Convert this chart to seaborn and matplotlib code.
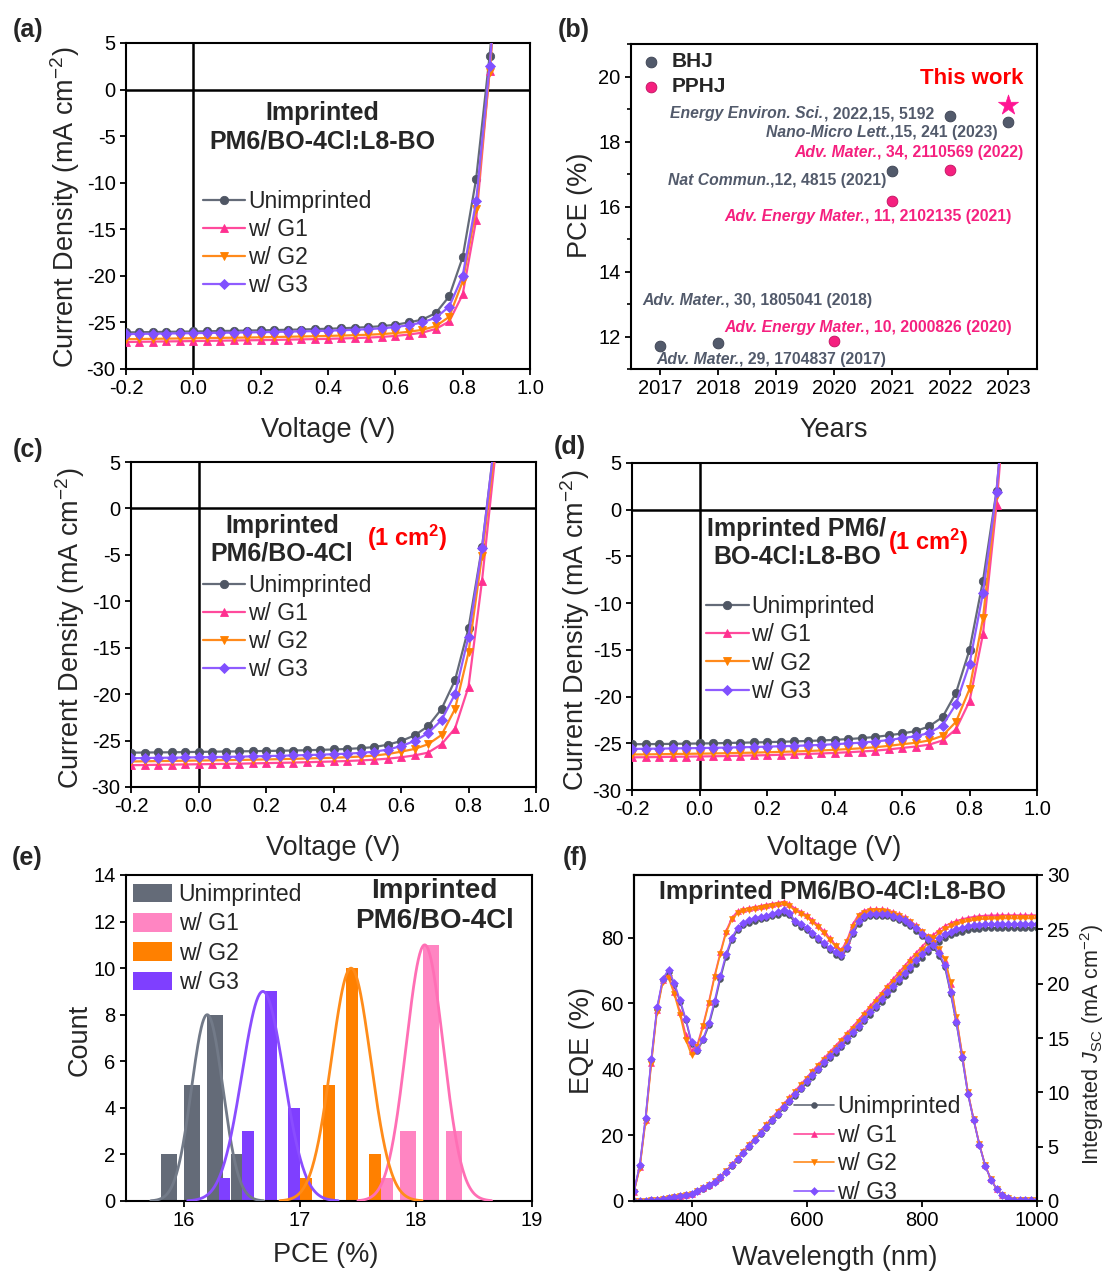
import numpy as np
import pandas as pd
import matplotlib
matplotlib.use("Agg")
import matplotlib.pyplot as plt
import seaborn as sns
from matplotlib.patches import Patch
from matplotlib.ticker import MultipleLocator

# ============================ DATA ============================
series_names = ["Unimprinted", "w/ G1", "w/ G2", "w/ G3"]

voltage = [-0.20, -0.16, -0.12, -0.08, -0.04, 0.00, 0.04, 0.08, 0.12, 0.16,
           0.20, 0.24, 0.28, 0.32, 0.36, 0.40, 0.44, 0.48, 0.52, 0.56,
           0.60, 0.64, 0.68, 0.72, 0.76, 0.80, 0.84, 0.88, 0.92]

# (a) Imprinted PM6/BO-4Cl:L8-BO
jv_a_unimp = [-26.07, -26.05, -26.03, -26.01, -25.99, -25.97, -25.95, -25.92, -25.90, -25.87,
              -25.85, -25.82, -25.79, -25.76, -25.72, -25.68, -25.63, -25.57, -25.50, -25.40,
              -25.25, -25.00, -24.70, -24.00, -22.20, -18.00, -9.60, 3.60, 20.0]
jv_a_g1 = [-27.10, -27.08, -27.06, -27.04, -27.02, -27.00, -26.98, -26.96, -26.94, -26.92,
           -26.90, -26.88, -26.85, -26.82, -26.79, -26.76, -26.72, -26.68, -26.63, -26.55,
           -26.45, -26.30, -26.10, -25.70, -24.90, -22.00, -14.00, 2.00, 20.0]
jv_a_g2 = [-26.80, -26.78, -26.76, -26.74, -26.72, -26.70, -26.68, -26.66, -26.64, -26.62,
           -26.60, -26.57, -26.54, -26.51, -26.48, -26.45, -26.41, -26.37, -26.32, -26.25,
           -26.15, -26.00, -25.80, -25.40, -24.40, -20.60, -12.80, 1.90, 20.0]
jv_a_g3 = [-26.25, -26.23, -26.21, -26.19, -26.17, -26.15, -26.13, -26.11, -26.09, -26.07,
           -26.05, -26.02, -25.99, -25.96, -25.93, -25.89, -25.84, -25.79, -25.72, -25.63,
           -25.50, -25.30, -25.00, -24.50, -23.30, -20.00, -12.00, 2.50, 20.0]

# (c) Imprinted PM6/BO-4Cl, 1 cm2
jv_c_unimp = [-26.30, -26.29, -26.27, -26.26, -26.24, -26.22, -26.20, -26.18, -26.16, -26.14,
              -26.12, -26.10, -26.07, -26.04, -26.00, -25.96, -25.90, -25.82, -25.70, -25.45,
              -25.05, -24.45, -23.45, -21.60, -18.50, -12.90, -4.20, 8.00, 25.0]
jv_c_g1 = [-27.65, -27.63, -27.61, -27.59, -27.57, -27.55, -27.53, -27.51, -27.49, -27.46,
           -27.43, -27.40, -27.37, -27.33, -27.29, -27.25, -27.20, -27.14, -27.06, -26.95,
           -26.80, -26.60, -26.30, -25.40, -23.70, -19.20, -7.80, 6.00, 25.0]
jv_c_g2 = [-27.25, -27.23, -27.21, -27.19, -27.17, -27.15, -27.13, -27.11, -27.09, -27.06,
           -27.03, -27.00, -26.97, -26.93, -26.89, -26.85, -26.79, -26.72, -26.62, -26.45,
           -26.20, -25.90, -25.40, -24.40, -21.60, -15.50, -5.10, 7.00, 25.0]
jv_c_g3 = [-26.90, -26.88, -26.86, -26.84, -26.82, -26.80, -26.78, -26.76, -26.73, -26.70,
           -26.67, -26.64, -26.60, -26.56, -26.52, -26.47, -26.41, -26.33, -26.20, -25.98,
           -25.60, -25.05, -24.20, -22.80, -20.00, -13.80, -4.30, 8.00, 25.0]

# (d) Imprinted PM6/BO-4Cl:L8-BO, 1 cm2
jv_d_unimp = [-25.10, -25.09, -25.08, -25.06, -25.04, -25.02, -25.00, -24.97, -24.94, -24.91,
              -24.88, -24.84, -24.80, -24.75, -24.70, -24.63, -24.55, -24.45, -24.32, -24.15,
              -23.95, -23.70, -23.20, -22.20, -19.60, -15.00, -7.60, 2.00, 18.0]
jv_d_g1 = [-26.50, -26.49, -26.47, -26.45, -26.43, -26.41, -26.39, -26.36, -26.33, -26.30,
           -26.27, -26.23, -26.19, -26.14, -26.09, -26.03, -25.96, -25.88, -25.79, -25.66,
           -25.50, -25.35, -25.15, -24.70, -23.50, -20.50, -13.30, 0.50, 18.0]
jv_d_g2 = [-26.20, -26.19, -26.17, -26.15, -26.13, -26.11, -26.09, -26.06, -26.03, -26.00,
           -25.96, -25.92, -25.88, -25.83, -25.77, -25.70, -25.62, -25.53, -25.42, -25.28,
           -25.10, -24.95, -24.70, -24.20, -22.70, -19.20, -11.60, 1.60, 18.0]
jv_d_g3 = [-25.60, -25.59, -25.57, -25.55, -25.53, -25.51, -25.49, -25.46, -25.43, -25.40,
           -25.36, -25.32, -25.28, -25.23, -25.17, -25.10, -25.02, -24.93, -24.81, -24.66,
           -24.45, -24.25, -23.90, -23.10, -20.80, -16.50, -8.90, 1.90, 18.0]

# (b) literature PCE
bhj_year = [2017, 2018, 2021, 2022, 2023]
bhj_pce = [11.72, 11.80, 17.08, 18.80, 18.60]
pphj_year = [2020, 2021, 2022]
pphj_pce = [11.87, 16.17, 17.12]
this_work_year = [2023]
this_work_pce = [19.11]
ref_journal = ["Energy Environ. Sci.", "Nano-Micro Lett.", "Adv. Mater.", "Nat Commun.",
               "Adv. Energy Mater.", "Adv. Mater.", "Adv. Energy Mater.", "Adv. Mater."]
ref_detail = [", 2022,15, 5192", ",15, 241 (2023)", ", 34, 2110569 (2022)", ",12, 4815 (2021)",
              ", 11, 2102135 (2021)", ", 30, 1805041 (2018)", ", 10, 2000826 (2020)",
              ", 29, 1704837 (2017)"]
ref_type = ["BHJ", "BHJ", "PPHJ", "BHJ", "PPHJ", "BHJ", "PPHJ", "BHJ"]

# (e) PCE histograms: bin centers, counts, gaussian-fit parameters
hist_centers = {
    "Unimprinted": [15.87, 16.07, 16.27, 16.47],
    "w/ G1": [17.73, 17.93, 18.13, 18.33],
    "w/ G2": [17.05, 17.25, 17.45, 17.65],
    "w/ G3": [16.35, 16.55, 16.75, 16.95],
}
hist_counts = {
    "Unimprinted": [2, 5, 8, 2],
    "w/ G1": [1, 3, 11, 3],
    "w/ G2": [1, 5, 10, 2],
    "w/ G3": [1, 3, 9, 4],
}
fit_mean = {"Unimprinted": 16.20, "w/ G1": 18.075, "w/ G2": 17.44, "w/ G3": 16.68}
fit_sd = {"Unimprinted": 0.135, "w/ G1": 0.16, "w/ G2": 0.17, "w/ G3": 0.18}
fit_peak = {"Unimprinted": 8, "w/ G1": 11, "w/ G2": 10, "w/ G3": 9}

# (f) EQE and integrated Jsc, 300-1000 nm every 10 nm
wavelength = list(range(300, 1001, 10))
eqe_unimp = [3.0, 10.7, 25.0, 42.7, 58.4, 67.0, 69.6, 65.5, 60.5, 54.9,
             47.8, 45.7, 48.8, 53.3, 59.9, 67.5, 74.2, 79.3, 82.3, 83.8,
             84.5, 85.1, 85.6, 86.0, 86.5, 87.0, 87.6, 86.8, 84.3, 83.3,
             82.3, 80.8, 79.2, 77.6, 76.2, 74.8, 74.0, 76.5, 81.0, 84.2,
             85.8, 86.4, 86.6, 86.6, 86.4, 86.0, 85.3, 84.5, 83.5, 82.1,
             80.5, 79.0, 77.0, 74.5, 71.0, 63.0, 54.0, 43.5, 32.5, 24.5,
             17.0, 10.7, 6.5, 3.6, 1.7, 0.8, 0.4, 0.3, 0.3, 0.2, 0.2]
eqe_g1 = [2.8, 10.2, 24.5, 42.0, 58.0, 67.2, 68.5, 63.5, 57.5, 50.5,
          45.5, 47.5, 53.5, 60.5, 68.5, 75.5, 82.0, 86.0, 88.0, 88.6,
          89.0, 89.3, 89.6, 90.0, 90.3, 90.6, 90.9, 90.2, 88.8, 87.8,
          86.8, 85.3, 83.7, 81.9, 79.9, 77.8, 76.2, 79.2, 84.0, 87.0,
          88.2, 88.6, 88.7, 88.6, 88.3, 87.8, 87.1, 86.2, 85.1, 83.7,
          82.1, 80.5, 78.6, 76.4, 73.2, 66.0, 55.5, 44.5, 33.0, 24.8,
          17.2, 10.8, 6.6, 3.6, 1.7, 0.8, 0.4, 0.3, 0.3, 0.2, 0.2]
eqe_g2 = [2.8, 10.0, 24.0, 41.5, 57.5, 66.5, 67.8, 62.8, 56.5, 49.0,
          44.2, 46.8, 53.0, 60.0, 68.0, 75.0, 81.5, 85.5, 87.4, 88.0,
          88.4, 88.7, 89.0, 89.4, 89.7, 90.0, 90.2, 89.6, 88.2, 87.2,
          86.2, 84.7, 83.1, 81.3, 79.3, 77.3, 75.8, 78.6, 83.3, 86.4,
          87.6, 88.0, 88.1, 88.0, 87.7, 87.2, 86.5, 85.7, 84.6, 83.3,
          81.8, 80.3, 78.5, 76.5, 73.5, 66.5, 55.8, 44.7, 33.1, 24.8,
          17.2, 10.8, 6.6, 3.6, 1.7, 0.8, 0.4, 0.3, 0.3, 0.2, 0.2]
eqe_g3 = [3.0, 10.9, 25.3, 43.0, 58.8, 67.5, 70.3, 66.2, 61.0, 55.3,
          48.2, 46.0, 49.3, 54.0, 60.8, 68.4, 75.0, 80.0, 83.0, 84.5,
          85.2, 85.8, 86.3, 86.7, 87.2, 87.7, 88.3, 87.5, 85.0, 84.0,
          83.0, 81.5, 79.9, 78.3, 76.9, 75.5, 74.7, 77.2, 81.7, 84.9,
          86.5, 87.1, 87.3, 87.3, 87.1, 86.7, 86.0, 85.2, 84.2, 82.8,
          81.2, 79.7, 77.7, 75.2, 71.6, 63.5, 54.3, 43.7, 32.6, 24.6,
          17.0, 10.7, 6.5, 3.6, 1.7, 0.8, 0.4, 0.3, 0.3, 0.2, 0.2]
jsc_unimp = [0.00, 0.01, 0.03, 0.07, 0.13, 0.20, 0.28, 0.37, 0.46, 0.54,
             0.62, 0.88, 1.14, 1.42, 1.76, 2.15, 2.66, 3.22, 3.80, 4.39,
             4.98, 5.57, 6.16, 6.75, 7.34, 7.93, 8.52, 9.11, 9.70, 10.28,
             10.86, 11.44, 12.01, 12.57, 13.12, 13.66, 14.20, 14.76, 15.34, 15.93,
             16.53, 17.13, 17.73, 18.33, 18.93, 19.53, 20.12, 20.70, 21.27, 21.83,
             22.38, 22.91, 23.41, 23.86, 24.20, 24.45, 24.65, 24.80, 24.92, 25.01,
             25.07, 25.11, 25.13, 25.14, 25.15, 25.15, 25.15, 25.15, 25.15, 25.15, 25.15]
jsc_g1 = [0.00, 0.01, 0.03, 0.07, 0.14, 0.21, 0.29, 0.39, 0.48, 0.56,
          0.65, 0.92, 1.19, 1.49, 1.84, 2.25, 2.78, 3.37, 3.97, 4.59,
          5.21, 5.83, 6.44, 7.06, 7.68, 8.29, 8.91, 9.53, 10.15, 10.75,
          11.36, 11.97, 12.56, 13.15, 13.72, 14.29, 14.85, 15.44, 16.05, 16.66,
          17.29, 17.92, 18.55, 19.17, 19.80, 20.43, 21.05, 21.65, 22.25, 22.83,
          23.41, 23.96, 24.49, 24.96, 25.31, 25.57, 25.78, 25.94, 26.07, 26.16,
          26.22, 26.27, 26.29, 26.30, 26.31, 26.31, 26.31, 26.31, 26.31, 26.31, 26.31]
jsc_g2 = [0.00, 0.01, 0.03, 0.07, 0.13, 0.21, 0.29, 0.38, 0.48, 0.56,
          0.64, 0.91, 1.18, 1.47, 1.82, 2.22, 2.75, 3.33, 3.93, 4.54,
          5.15, 5.76, 6.37, 6.98, 7.59, 8.20, 8.81, 9.42, 10.03, 10.63,
          11.23, 11.83, 12.42, 13.00, 13.57, 14.12, 14.68, 15.26, 15.86, 16.47,
          17.09, 17.71, 18.33, 18.95, 19.57, 20.19, 20.80, 21.40, 21.99, 22.57,
          23.14, 23.69, 24.21, 24.67, 25.02, 25.28, 25.49, 25.64, 25.77, 25.86,
          25.92, 25.96, 25.98, 25.99, 26.00, 26.00, 26.00, 26.00, 26.00, 26.00, 26.00]
jsc_g3 = [0.00, 0.01, 0.03, 0.07, 0.13, 0.20, 0.28, 0.38, 0.47, 0.55,
          0.63, 0.89, 1.16, 1.44, 1.78, 2.18, 2.70, 3.27, 3.85, 4.45,
          5.05, 5.65, 6.25, 6.84, 7.44, 8.04, 8.64, 9.24, 9.84, 10.42,
          11.01, 11.60, 12.18, 12.75, 13.30, 13.85, 14.40, 14.97, 15.55, 16.15,
          16.76, 17.37, 17.98, 18.59, 19.20, 19.80, 20.40, 20.99, 21.57, 22.14,
          22.69, 23.23, 23.74, 24.19, 24.54, 24.79, 24.99, 25.15, 25.27, 25.36,
          25.42, 25.46, 25.48, 25.49, 25.50, 25.50, 25.50, 25.50, 25.50, 25.50, 25.50]

# ============================ STYLE ============================
sns.set_theme(style="ticks")
plt.rcParams["font.family"] = ["Liberation Sans", "DejaVu Sans"]
plt.rcParams["mathtext.fontset"] = "custom"
plt.rcParams["mathtext.rm"] = "Liberation Sans"
plt.rcParams["mathtext.it"] = "Liberation Sans:italic"
plt.rcParams["mathtext.bf"] = "Liberation Sans:bold"
plt.rcParams["axes.unicode_minus"] = False
plt.rcParams["axes.linewidth"] = 1.5
plt.rcParams["axes.edgecolor"] = "black"

line_col = {"Unimprinted": "#646b78", "w/ G1": "#ff4a9c", "w/ G2": "#ff8a1c", "w/ G3": "#8f5cff"}
mark_col = {"Unimprinted": "#4f5664", "w/ G1": "#ff3090", "w/ G2": "#ff8000", "w/ G3": "#8050ff"}
markers = {"Unimprinted": "o", "w/ G1": "^", "w/ G2": "v", "w/ G3": "D"}
bar_col = {"Unimprinted": "#646b78", "w/ G1": "#ff85c2", "w/ G2": "#ff8000", "w/ G3": "#7f3fff"}
fit_col = {"Unimprinted": "#727a88", "w/ G1": "#ff6fb5", "w/ G2": "#ff8c1a", "w/ G3": "#8a4dff"}
BHJ_C = "#525a6b"
PPHJ_C = "#f5207f"
LAB_FS = 19.5
TICK_FS = 14.5
LEG_FS = 16.5

W, H = 1107, 1272
fig = plt.figure(figsize=(W / 100, H / 100), dpi=100)


def axes_px(l, t, r, b):
    return fig.add_axes([l / W, 1 - b / H, (r - l) / W, (b - t) / H])


def fx(px):
    return px / W


def fy(py):
    return 1 - py / H


def set_labels(ax, xl, xpos, yl, ypos, fs=LAB_FS):
    ax.set_xlabel(xl, fontsize=fs, va="center", ha="center")
    ax.xaxis.set_label_coords(fx(xpos[0]), fy(xpos[1]), transform=fig.transFigure)
    ax.set_ylabel(yl, fontsize=fs, va="center", ha="center")
    ax.yaxis.set_label_coords(fx(ypos[0]), fy(ypos[1]), transform=fig.transFigure)


def style_ticks(ax, fs=TICK_FS):
    ax.tick_params(axis="both", which="major", direction="out", length=4.5, width=1.3,
                   labelsize=fs, pad=3, color="black", labelcolor="black")
    for s in ax.spines.values():
        s.set_visible(True)
        s.set_linewidth(1.5)
        s.set_color("black")


ax_a = axes_px(126, 43, 530, 369)
ax_b = axes_px(631, 44, 1037, 369)
ax_c = axes_px(131, 462, 536, 787)
ax_d = axes_px(632, 463, 1037, 790)
ax_e = axes_px(126, 875, 532, 1201)
ax_f = axes_px(634, 875, 1037, 1201)

# ============================ JV PANELS ============================
def jv_panel(ax, curves, leg_anchor):
    ax.axhline(0, color="black", lw=1.8, zorder=1)
    ax.axvline(0, color="black", lw=1.8, zorder=1)
    for name, J in zip(series_names, curves):
        sns.lineplot(x=voltage, y=J, ax=ax, color=line_col[name], lw=1.6,
                     marker=markers[name], markersize=6 if name != "w/ G3" else 5.5,
                     markerfacecolor=mark_col[name], markeredgecolor=mark_col[name],
                     markeredgewidth=0.6, label=name, sort=False, zorder=3)
    ax.set_xlim(-0.2, 1.0)
    ax.set_ylim(-30, 5)
    ax.set_xticks([-0.2, 0.0, 0.2, 0.4, 0.6, 0.8, 1.0])
    ax.set_xticklabels(["-0.2", "0.0", "0.2", "0.4", "0.6", "0.8", "1.0"])
    ax.set_yticks(list(range(-30, 6, 5)))
    style_ticks(ax)
    ax.legend(loc="upper left", bbox_to_anchor=leg_anchor, frameon=False, fontsize=LEG_FS,
              handlelength=1.85, handletextpad=0.12, labelspacing=0.22, borderpad=0,
              borderaxespad=0)


jv_panel(ax_a, [jv_a_unimp, jv_a_g1, jv_a_g2, jv_a_g3], (0.19, 0.55))
ax_a.text(0.486, 0.741, "Imprinted\nPM6/BO-4Cl:L8-BO", transform=ax_a.transAxes,
          ha="center", va="center", fontsize=18, fontweight="bold", linespacing=1.25)
set_labels(ax_a, "Voltage (V)", (328, 430), "Current Density (mA cm$^{-2}$)", (65, 207))

jv_panel(ax_c, [jv_c_unimp, jv_c_g1, jv_c_g2, jv_c_g3], (0.178, 0.655))
ax_c.text(0.373, 0.76, "Imprinted\nPM6/BO-4Cl", transform=ax_c.transAxes,
          ha="center", va="center", fontsize=18, fontweight="bold", linespacing=1.2)
ax_c.text(0.583, 0.765, "(1 cm$^\\mathbf{2}$)", transform=ax_c.transAxes, color="#ff0000",
          ha="left", va="center", fontsize=17, fontweight="bold")
set_labels(ax_c, "Voltage (V)", (333, 848), "Current Density (mA cm$^{-2}$)", (70, 628))

jv_panel(ax_d, [jv_d_unimp, jv_d_g1, jv_d_g2, jv_d_g3], (0.183, 0.595))
ax_d.text(0.407, 0.755, "Imprinted PM6/\nBO-4Cl:L8-BO", transform=ax_d.transAxes,
          ha="center", va="center", fontsize=18, fontweight="bold", linespacing=1.2)
ax_d.text(0.632, 0.76, "(1 cm$^\\mathbf{2}$)", transform=ax_d.transAxes, color="#ff0000",
          ha="left", va="center", fontsize=17, fontweight="bold")
set_labels(ax_d, "Voltage (V)", (834, 848), "Current Density (mA cm$^{-2}$)", (575, 630))

# ============================ (b) ============================
sns.scatterplot(x=bhj_year, y=bhj_pce, ax=ax_b, color=BHJ_C, s=60, edgecolor="#3a4050",
                linewidth=0.6, label="BHJ", zorder=3)
sns.scatterplot(x=pphj_year, y=pphj_pce, ax=ax_b, color=PPHJ_C, s=60, edgecolor="#c0105f",
                linewidth=0.6, label="PPHJ", zorder=3)
sns.scatterplot(x=this_work_year, y=this_work_pce, ax=ax_b, color="#ff1493", marker="*",
                s=230, edgecolor="#ff1493", linewidth=0.5, zorder=3)
ax_b.set_xlim(2016.5, 2023.5)
ax_b.set_ylim(11, 21)
ax_b.set_xticks(list(range(2017, 2024)))
ax_b.set_yticks([12, 14, 16, 18, 20])
ax_b.yaxis.set_minor_locator(MultipleLocator(1))
style_ticks(ax_b, fs=14.5)
ax_b.tick_params(axis="y", which="minor", direction="out", length=3, width=1.2, color="black")

# text label positions (layout, data coordinates: left edge, vertical centre)
label_pos = [(2017.18, 18.86), (2018.83, 18.29), (2019.31, 17.65), (2017.13, 16.81),
             (2018.11, 15.69), (2016.69, 13.11), (2018.11, 12.29), (2016.93, 11.29)]
for (lx, ly), jn, det, typ in zip(label_pos, ref_journal, ref_detail, ref_type):
    c = BHJ_C if typ == "BHJ" else PPHJ_C
    t1 = ax_b.text(lx, ly, jn, color=c, fontsize=11.3, fontweight="bold", fontstyle="italic",
                   ha="left", va="center", zorder=4)
    ax_b.annotate(det, xy=(1, 0), xycoords=t1, color=c, fontsize=11.3, fontweight="bold",
                  ha="left", va="bottom", zorder=4)
ax_b.text(2021.49, 19.93, "This work", color="#ff0000", fontsize=16, fontweight="bold",
          ha="left", va="center")
ax_b.legend(loc="upper left", bbox_to_anchor=(0.028, 0.975), frameon=False,
            prop={"weight": "bold", "size": 15}, handlelength=0.8,
            handletextpad=0.6, labelspacing=0.3, borderpad=0, borderaxespad=0)
set_labels(ax_b, "Years", (834, 430), "PCE (%)", (580, 205))

# ============================ (e) ============================
draw_order = ["Unimprinted", "w/ G3", "w/ G1", "w/ G2"]
shrink = {"Unimprinted": 0.69, "w/ G1": 0.68, "w/ G2": 0.52, "w/ G3": 0.5}
for name in draw_order:
    df = pd.DataFrame({"pce": hist_centers[name], "count": hist_counts[name]})
    c = np.array(hist_centers[name])
    edges = list(np.append(c - 0.1, c[-1] + 0.1))
    sns.histplot(data=df, x="pce", weights="count", bins=edges,
                 shrink=shrink[name], color=bar_col[name], alpha=1.0, edgecolor="none",
                 linewidth=0, ax=ax_e, zorder=2)
for name in draw_order:
    mu, sd, pk = fit_mean[name], fit_sd[name], fit_peak[name]
    xs = np.linspace(mu - 3.6 * sd, mu + 3.6 * sd, 200)
    ys = pk * np.exp(-0.5 * ((xs - mu) / sd) ** 2)
    sns.lineplot(x=xs, y=ys, ax=ax_e, color=fit_col[name], lw=2.0, zorder=3)
ax_e.set_xlim(15.5, 19)
ax_e.set_ylim(0, 14)
ax_e.set_xticks([16, 17, 18, 19])
ax_e.set_yticks(list(range(0, 15, 2)))
style_ticks(ax_e)
handles_e = [Patch(facecolor=bar_col[n], edgecolor="none", label=n) for n in series_names]
ax_e.legend(handles=handles_e, loc="upper left", bbox_to_anchor=(0.017, 0.975), frameon=False,
            fontsize=LEG_FS, handlelength=1.7, handleheight=0.85, handletextpad=0.3,
            labelspacing=0.27, borderpad=0, borderaxespad=0)
ax_e.text(0.759, 0.906, "Imprinted\nPM6/BO-4Cl", transform=ax_e.transAxes, ha="center",
          va="center", fontsize=20, fontweight="bold", linespacing=1.2)
set_labels(ax_e, "PCE (%)", (326, 1255), "Count", (80, 1040))

# ============================ (f) ============================
ax_f2 = ax_f.twinx()
for name, eqe, jsc in zip(series_names, [eqe_unimp, eqe_g1, eqe_g2, eqe_g3],
                          [jsc_unimp, jsc_g1, jsc_g2, jsc_g3]):
    ms = 4.2 if name != "w/ G3" else 3.8
    sns.lineplot(x=wavelength, y=eqe, ax=ax_f, color=line_col[name], lw=1.2,
                 marker=markers[name], markersize=ms, markerfacecolor=mark_col[name],
                 markeredgecolor=mark_col[name], markeredgewidth=0.4, label=name, sort=False)
    sns.lineplot(x=wavelength, y=jsc, ax=ax_f2, color=line_col[name], lw=1.2,
                 marker=markers[name], markersize=ms, markerfacecolor=mark_col[name],
                 markeredgecolor=mark_col[name], markeredgewidth=0.4, sort=False)
ax_f.set_xlim(300, 1000)
ax_f.set_ylim(0, 99)
ax_f.set_xticks([400, 600, 800, 1000])
ax_f.set_yticks([0, 20, 40, 60, 80])
ax_f2.set_ylim(0, 30)
ax_f2.set_yticks(list(range(0, 31, 5)))
style_ticks(ax_f)
style_ticks(ax_f2)
ax_f.legend(loc="upper left", bbox_to_anchor=(0.397, 0.325), frameon=False, fontsize=LEG_FS,
            handlelength=1.75, handletextpad=0.12, labelspacing=0.24, borderpad=0,
            borderaxespad=0)
ax_f.set_zorder(ax_f2.get_zorder() + 1)
ax_f.patch.set_visible(False)
ax_f.text(0.493, 0.949, "Imprinted PM6/BO-4Cl:L8-BO", transform=ax_f.transAxes,
          ha="center", va="center", fontsize=18, fontweight="bold")
set_labels(ax_f, "Wavelength (nm)", (835, 1258), "EQE (%)", (582, 1040))
ax_f2.set_ylabel("Integrated $J_{\\mathrm{SC}}$ (mA cm$^{-2}$)", fontsize=15.5,
                 va="center", ha="center", rotation=90)
ax_f2.yaxis.set_label_coords(fx(1092), fy(1045), transform=fig.transFigure)

# panel letters
for lab, (px, py) in zip(["(a)", "(b)", "(c)", "(d)", "(e)", "(f)"],
                         [(28, 30), (574, 30), (28, 450), (570, 447), (27, 858), (575, 858)]):
    fig.text(fx(px), fy(py), lab, fontsize=18, fontweight="bold", ha="center", va="center")

fig.savefig("out.png", dpi=100)
